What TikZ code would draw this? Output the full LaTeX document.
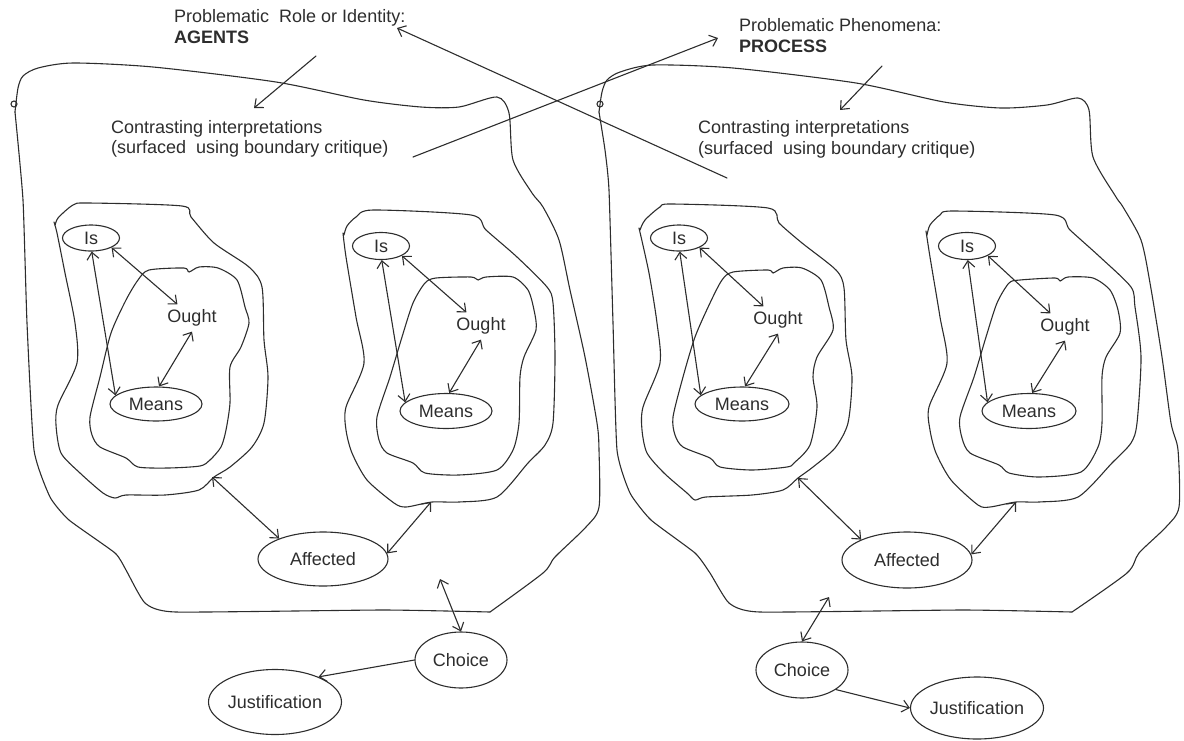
\documentclass[tikz,border=0pt]{standalone}
\usepackage{fontspec}
\setmainfont{Liberation Sans}
\usetikzlibrary{arrows.meta,shapes.geometric}
\definecolor{inkc}{RGB}{45,45,45}
\newcommand{\labfont}{\fontsize{18pt}{21pt}\selectfont}
\tikzset{
  ink/.style={draw=inkc, line width=1.1pt, line cap=round, line join=round},
  bnd/.style={ink},
  oval/.style={ellipse, draw=inkc, line width=1.1pt, inner sep=0pt, text=inkc, font=\labfont},
  plain/.style={inner sep=5pt, text=inkc, font=\labfont},
  lbl/.style={inner sep=0pt, anchor=base west, text=inkc, font=\labfont},
  tipA/.tip={Straight Barb[length=7pt,width=12pt,line width=1.1pt]},
  dbl/.style={ink, tipA-tipA},
  sgl/.style={ink, -tipA},
}
\begin{document}
\begin{tikzpicture}[x=1pt,y=-1pt]
\useasboundingbox (0,0) rectangle (1184,740);

% ---------- texts ----------
\node[lbl] (probA1) at (174,22) {Problematic\ \ Role or Identity:};
\node[lbl] (probA2) at (174,43) {\bfseries AGENTS};
\node[lbl] (probB1) at (739,31) {Problematic Phenomena:};
\node[lbl] (probB2) at (739,52) {\bfseries PROCESS};
\node[lbl] (ctA1) at (111,133) {Contrasting interpretations};
\node[lbl] (ctA2) at (111,153) {(surfaced\ \ using boundary critique)};
\node[lbl] (ctB1) at (698,133) {Contrasting interpretations};
\node[lbl] (ctB2) at (698,154) {(surfaced\ \ using boundary critique)};

% ---------- outer boundaries ----------
\draw[bnd] plot[smooth, tension=0.45] coordinates {
 (15,112) (18,88) (23,76) (38,68) (73,63) (153,67) (276,82) (364,100) (421,107) (459,107) (497,97) (509,113) (513,160) (532,193) (543,207) (559,240) (570,290) (585,357) (597,423) (599,450) (599,507) (586,527) (555,557) (543,573) (490,612)};
\draw[bnd] plot[smooth, tension=0.3] coordinates {
 (490,612) (383,610) (176,612) (145,603) (126,570) (115,553) (69,520) (50,497) (34,450) (27,323) (23,200) (15,112)};
\draw[bnd] (14,104) circle[radius=3pt];

\draw[bnd] plot[smooth, tension=0.45] coordinates {
 (599,112) (602,92) (607,80) (620,72) (653,65) (733,68) (856,83) (944,102) (1001,108) (1047,105) (1078,98) (1089,110) (1093,157) (1116,197) (1123,207) (1141,240) (1150,283) (1162,357) (1171,423) (1178,450) (1179,507) (1166,527) (1139,553) (1127,573) (1072,612)};
\draw[bnd] plot[smooth, tension=0.3] coordinates {
 (1072,612) (963,610) (760,612) (729,603) (710,573) (695,553) (651,520) (630,493) (617,450) (613,323) (609,190) (605,150) (599,112)};
\draw[bnd] (600,104) circle[radius=3pt];

% ---------- group boundaries ----------
% left panel, left group
\draw[bnd] plot[smooth, tension=0.45] coordinates {
 (55,226) (58,218) (73,205) (88,203) (182,206) (191,217) (214,243) (249,267) (262,287) (264,340) (268,377) (264,423) (252,447) (230,467) (214,477) (199,490) (165,495) (126,495) (115,498) (103,493) (80,473) (61,453) (56,425) (58,405) (77,363) (75,323) (65,273) (57,233) (54,222)};
\draw[bnd] plot[smooth cycle, tension=0.45] coordinates {
 (149,270) (184,268) (189,272) (199,267) (218,268) (237,280) (245,307) (249,323) (241,347) (230,367) (230,403) (226,430) (221,447) (210,460) (200,466) (168,468) (138,467) (126,458) (100,447) (92,435) (90,417) (100,377) (111,333) (126,300) (138,280)};
% left panel, right group
\draw[bnd] plot[smooth, tension=0.45] coordinates {
 (344,235) (347,226) (356,217) (373,210) (471,215) (486,230) (517,257) (547,287) (553,303) (555,357) (553,423) (545,445) (528,463) (497,497) (459,502) (432,502) (406,507) (394,503) (367,480) (352,453) (346,430) (346,407) (364,363) (356,317) (346,257) (343,233)};
\draw[bnd] plot[smooth cycle, tension=0.45] coordinates {
 (436,278) (471,277) (478,280) (486,277) (513,277) (528,290) (534,310) (536,330) (524,357) (520,377) (519,423) (513,450) (497,470) (459,475) (425,473) (413,463) (387,453) (379,440) (377,417) (390,377) (402,337) (413,303) (425,283)};
% right panel, left group
\draw[bnd] plot[smooth, tension=0.45] coordinates {
 (640,230) (645,220) (660,207) (672,204) (768,208) (779,223) (802,243) (836,270) (844,288) (846,340) (852,377) (848,423) (835,448) (813,467) (798,478) (783,490) (752,495) (706,497) (695,500) (687,493) (664,473) (647,453) (642,430) (643,407) (660,363) (657,323) (649,273) (639,228)};
\draw[bnd] plot[smooth cycle, tension=0.45] coordinates {
 (733,272) (768,270) (773,273) (783,268) (802,268) (821,280) (829,307) (833,330) (817,357) (813,377) (817,407) (810,445) (794,463) (787,467) (752,470) (720,467) (710,458) (683,447) (675,435) (673,417) (683,377) (695,337) (710,303) (722,280)};
% right panel, right group
\draw[bnd] plot[smooth, tension=0.45] coordinates {
 (927,235) (930,225) (940,215) (953,211) (1055,215) (1070,230) (1100,257) (1131,287) (1135,307) (1141,357) (1137,423) (1131,443) (1112,463) (1078,497) (1039,502) (1016,502) (990,507) (978,505) (951,480) (936,453) (930,430) (929,407) (947,363) (940,317) (930,257) (926,231)};
\draw[bnd] plot[smooth cycle, tension=0.45] coordinates {
 (1020,280) (1055,278) (1060,281) (1068,277) (1093,278) (1110,290) (1118,310) (1120,333) (1106,357) (1102,377) (1102,423) (1098,447) (1081,472) (1039,477) (1009,473) (999,465) (970,453) (962,438) (960,417) (974,377) (986,337) (997,303) (1009,283)};

% ---------- nodes ----------
\node[oval, minimum width=57pt, minimum height=26pt] (isLL) at (91,238) {Is};
\node[plain] (oughtLL) at (192,318) {Ought};
\node[oval, minimum width=92pt, minimum height=34pt] (meansLL) at (156,404) {Means};

\node[oval, minimum width=57pt, minimum height=27pt] (isLR) at (381,246) {Is};
\node[plain] (oughtLR) at (481,326) {Ought};
\node[oval, minimum width=92pt, minimum height=35pt] (meansLR) at (446,411) {Means};

\node[oval, minimum width=57pt, minimum height=26pt] (isRL) at (679,238) {Is};
\node[plain] (oughtRL) at (778,320) {Ought};
\node[oval, minimum width=94pt, minimum height=34pt] (meansRL) at (742,404) {Means};

\node[oval, minimum width=57pt, minimum height=27pt] (isRR) at (967,246) {Is};
\node[plain] (oughtRR) at (1065,327) {Ought};
\node[oval, minimum width=94pt, minimum height=35pt] (meansRR) at (1029,411) {Means};

\node[oval, minimum width=130pt, minimum height=54pt] (affL) at (323,559) {Affected};
\node[oval, minimum width=130pt, minimum height=56pt] (affR) at (907,560) {Affected};
\node[oval, minimum width=92pt, minimum height=56pt] (choiceL) at (461,660) {Choice};
\node[oval, minimum width=92pt, minimum height=56pt] (choiceR) at (802,670) {Choice};
\node[oval, minimum width=130pt, minimum height=65pt] (justL) at (275,702) {Justification};
\node[oval, minimum width=128pt, minimum height=62pt] (justR) at (977,708) {Justification};

% ---------- free-end coordinates ----------
\coordinate (a1s) at (316,56);
\coordinate (a1e) at (254,108);
\coordinate (a2s) at (882,66);
\coordinate (a2e) at (840,110);
\coordinate (l1s) at (413,157);
\coordinate (l1e) at (718,38);
\coordinate (l2s) at (727,178);
\coordinate (l2e) at (397,28);
\coordinate (cLL) at (212,477);
\coordinate (cLR) at (431,502);
\coordinate (cChL) at (440,579);
\coordinate (cRL) at (798,478);
\coordinate (cRR) at (1016,502);
\coordinate (cChR) at (829,597);

% ---------- connectors ----------
\draw[sgl] (a1s) -- (a1e);
\draw[sgl] (a2s) -- (a2e);
\draw[sgl] (l1s) -- (l1e);
\draw[sgl] (l2s) -- (l2e);

\foreach \g in {LL,LR,RL,RR}{
  \draw[dbl] (is\g.-87) -- (means\g.168);
  \draw[dbl] (is\g.-25) -- (ought\g.137);
  \draw[dbl] (ought\g.south) -- (means\g.80);
}

\draw[dbl] (cLL) -- (affL.155);
\draw[dbl] (cLR) -- (affL.5);
\draw[dbl] (cChL) -- (choiceL.north);
\draw[sgl] (choiceL.west) -- (justL.30);

\draw[dbl] (cRL) -- (affR.156);
\draw[dbl] (cRR) -- (affR.5);
\draw[dbl] (cChR) -- (choiceR.north);
\draw[sgl] (choiceR.-30) -- (justR.west);
\end{tikzpicture}
\end{document}
